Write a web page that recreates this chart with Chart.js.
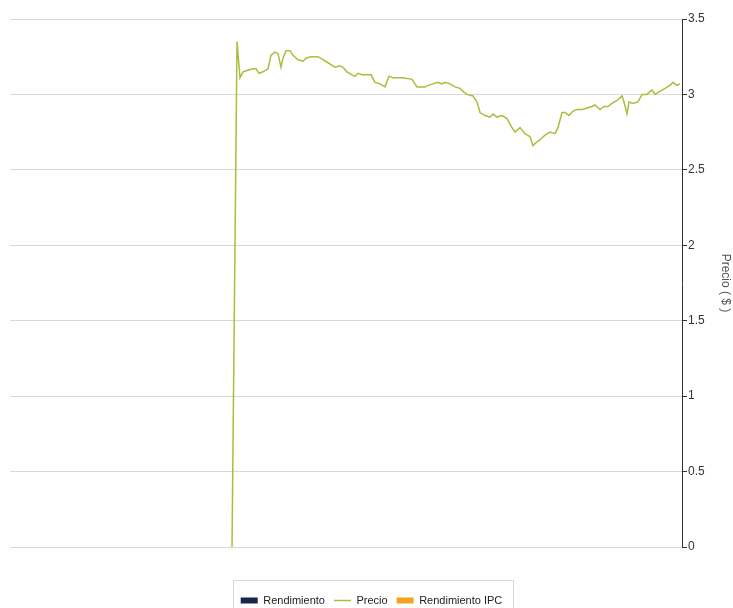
<!DOCTYPE html>
<html>
<head>
<meta charset="utf-8">
<script src="https://cdn.jsdelivr.net/npm/chart.js@4.4.1/dist/chart.umd.min.js"></script>
<style>
  html, body { margin: 0; padding: 0; background: #fff; }
  #wrap { position: relative; width: 733px; height: 608px; overflow: hidden; }
</style>
</head>
<body>
<div id="wrap"><canvas id="c" width="733" height="608"></canvas></div>
<script>
// Día (índice de la serie) y precio ($)
const dias = [222,227,230,233,238,243,246,249,253,258,261,265,268,271,273,276,280,283,288,293,296,301,308,313,318,325,330,333,337,342,345,348,352,357,361,365,370,375,379,383,388,393,402,407,412,415,418,423,428,432,435,440,445,450,453,457,463,467,470,475,480,483,487,492,497,502,505,510,515,520,523,526,530,535,540,545,548,552,555,559,563,567,572,577,582,585,590,594,598,602,607,612,614,617,619,623,628,632,637,642,645,650,655,660,663,667,670];
const precio = [0,3.35,3.11,3.15,3.16,3.17,3.17,3.14,3.15,3.17,3.26,3.28,3.27,3.18,3.24,3.29,3.29,3.26,3.23,3.22,3.24,3.25,3.25,3.23,3.21,3.18,3.19,3.18,3.15,3.13,3.12,3.14,3.13,3.13,3.13,3.08,3.07,3.05,3.12,3.11,3.11,3.11,3.10,3.05,3.05,3.05,3.06,3.07,3.08,3.07,3.08,3.07,3.05,3.04,3.02,3.00,2.99,2.95,2.88,2.86,2.85,2.87,2.85,2.86,2.84,2.78,2.75,2.78,2.74,2.72,2.66,2.68,2.70,2.73,2.75,2.74,2.78,2.88,2.88,2.86,2.89,2.90,2.90,2.91,2.92,2.93,2.90,2.92,2.92,2.94,2.96,2.99,2.95,2.87,2.95,2.94,2.95,3.00,3.00,3.03,3.00,3.02,3.04,3.06,3.08,3.06,3.07];
const rendimiento = [];
const rendimientoIPC = [];
const seriesNames = ['Rendimiento', 'Precio', 'Rendimiento IPC'];
const yTicks = [0, 0.5, 1, 1.5, 2, 2.5, 3, 3.5];
const totalDias = 672;

const FONT = "'Liberation Sans Narrow', 'Liberation Sans', Arial, sans-serif";

const legendBorder = {
  id: 'legendBorder',
  afterDraw(chart) {
    const lg = chart.legend;
    if (!lg || !lg.legendHitBoxes || !lg.legendHitBoxes.length) return;
    const hb = lg.legendHitBoxes;
    let l = Infinity, r = -Infinity, t = Infinity, h = 0;
    hb.forEach(b => { l = Math.min(l, b.left); r = Math.max(r, b.left + b.width); t = Math.min(t, b.top); h = Math.max(h, b.height); });
    const cy = t + h / 2;
    const ctx = chart.ctx;
    ctx.save();
    ctx.strokeStyle = '#d8d8d8';
    ctx.lineWidth = 1;
    ctx.strokeRect(Math.round(l - 8) + 0.5, Math.round(cy - 21) + 0.5, Math.round(r - l + 18), 60);
    ctx.restore();
  }
};

new Chart(document.getElementById('c'), {
  data: {
    datasets: [
      { type: 'bar', label: seriesNames[0], data: rendimiento, backgroundColor: '#17264d', pointStyle: 'rect' },
      { type: 'line', label: seriesNames[1], data: dias.map((d, i) => ({ x: d, y: precio[i] })),
        borderColor: '#abbd3d', backgroundColor: '#abbd3d', borderWidth: 1.5, pointRadius: 0, tension: 0, pointStyle: 'line' },
      { type: 'bar', label: seriesNames[2], data: rendimientoIPC, backgroundColor: '#f5a31e', pointStyle: 'rect' }
    ]
  },
  options: {
    responsive: false,
    animation: false,
    layout: { padding: { left: 10, top: 19, right: 0, bottom: -8 } },
    plugins: {
      tooltip: { enabled: false },
      legend: {
        position: 'bottom',
        labels: {
          usePointStyle: true,
          pointStyleWidth: 17,
          boxHeight: 6,
          padding: 9,
          color: '#222',
          font: { family: FONT, size: 11 }
        }
      }
    },
    scales: {
      x: {
        type: 'linear',
        min: 0,
        max: totalDias,
        offset: false,
        display: true,
        grid: { display: false, drawTicks: false },
        border: { display: false },
        ticks: { display: false },
        afterFit(s) { s.height = 39; }
      },
      y: {
        position: 'right',
        min: 0,
        max: 3.5,
        afterBuildTicks(s) { s.ticks = yTicks.map(v => ({ value: v })); },
        grid: { color: '#d9d9d9', lineWidth: 1, tickLength: 5, tickColor: '#333' },
        border: { display: true, color: '#333', width: 1 },
        ticks: { color: '#333', padding: 1, font: { family: FONT, size: 12 }, callback: v => String(v) },
        title: { display: true, text: 'Precio ( $ )', color: '#555', font: { family: "'Liberation Sans', Arial, sans-serif", size: 12 }, padding: 0 },
        afterFit(s) { s.width = 51; }
      }
    }
  },
  plugins: [legendBorder]
});
</script>
</body>
</html>
